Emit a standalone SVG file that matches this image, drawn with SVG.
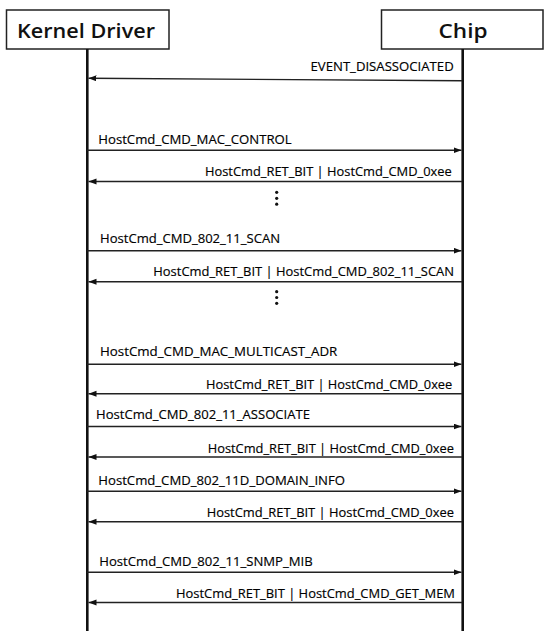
<svg xmlns="http://www.w3.org/2000/svg" width="550" height="631" viewBox="0 0 550 631">
<style>
.box{fill:#fff;stroke:#222;stroke-width:1.5}
.title{font-family:"Open Sans","Liberation Sans",sans-serif;font-size:20px;font-weight:600;fill:#111;text-anchor:middle}
.life{stroke:#111;stroke-width:2.6;fill:none}
.msg{stroke:#222;stroke-width:1.4;fill:none;marker-end:url(#ah)}
.lbl{font-family:"Open Sans","Liberation Sans",sans-serif;font-size:12px;font-weight:500;fill:#000;stroke:#000;stroke-width:0.15}
.end{text-anchor:end}
.dot{fill:#111}
</style>
<defs>
<marker id="ah" markerUnits="userSpaceOnUse" markerWidth="10" markerHeight="8" refX="8" refY="3" orient="auto">
<path d="M0,0 L8,3 L0,6 Z" fill="#111"/>
</marker>
</defs>
<g id="kernel-driver">
<rect class="box" x="6.5" y="10" width="162.5" height="39"/>
<text class="title" x="86" y="37.5" textLength="138" lengthAdjust="spacingAndGlyphs">Kernel Driver</text>
</g>
<g id="chip">
<rect class="box" x="381.5" y="10" width="161.5" height="39"/>
<text class="title" x="463" y="37.5" textLength="49" lengthAdjust="spacingAndGlyphs">Chip</text>
</g>
<g id="lifelines">
<line class="life" x1="87.3" y1="49" x2="87.3" y2="631"/>
<line class="life" x1="462.7" y1="49" x2="462.7" y2="631"/>
</g>
<g id="connectors">
<line class="msg" x1="462" y1="80.7" x2="88.5" y2="78.3"/>
<line class="msg" x1="87" y1="150.3" x2="461.5" y2="150.3"/>
<line class="msg" x1="462" y1="181.5" x2="88.5" y2="181.5"/>
<line class="msg" x1="87" y1="250.7" x2="461.5" y2="250.7"/>
<line class="msg" x1="462" y1="281.7" x2="88.5" y2="281.7"/>
<line class="msg" x1="87" y1="364.3" x2="461.5" y2="364.3"/>
<line class="msg" x1="462" y1="393.7" x2="88.5" y2="393.7"/>
<line class="msg" x1="87" y1="426.5" x2="461.5" y2="426.5"/>
<line class="msg" x1="462" y1="457" x2="88.5" y2="457"/>
<line class="msg" x1="87" y1="491.3" x2="461.5" y2="491.3"/>
<line class="msg" x1="462" y1="521.7" x2="88.5" y2="521.7"/>
<line class="msg" x1="87" y1="572.3" x2="461.5" y2="572.3"/>
<line class="msg" x1="462" y1="602.5" x2="88.5" y2="602.5"/>
</g>
<g id="labels">
<text class="lbl end" x="453.7" y="71" textLength="143.2" lengthAdjust="spacingAndGlyphs">EVENT_DISASSOCIATED</text>
<text class="lbl" x="98.3" y="144.3" textLength="193.4" lengthAdjust="spacingAndGlyphs">HostCmd_CMD_MAC_CONTROL</text>
<text class="lbl end" x="451.7" y="176" textLength="246.7" lengthAdjust="spacingAndGlyphs">HostCmd_RET_BIT | HostCmd_CMD_0xee</text>
<text class="lbl" x="100" y="243.3" textLength="180" lengthAdjust="spacingAndGlyphs">HostCmd_CMD_802_11_SCAN</text>
<text class="lbl end" x="454" y="276" textLength="300.7" lengthAdjust="spacingAndGlyphs">HostCmd_RET_BIT | HostCmd_CMD_802_11_SCAN</text>
<text class="lbl" x="100" y="356" textLength="237.3" lengthAdjust="spacingAndGlyphs">HostCmd_CMD_MAC_MULTICAST_ADR</text>
<text class="lbl end" x="452.3" y="389" textLength="246.3" lengthAdjust="spacingAndGlyphs">HostCmd_RET_BIT | HostCmd_CMD_0xee</text>
<text class="lbl" x="96" y="419.3" textLength="214" lengthAdjust="spacingAndGlyphs">HostCmd_CMD_802_11_ASSOCIATE</text>
<text class="lbl end" x="454" y="453" textLength="246.3" lengthAdjust="spacingAndGlyphs">HostCmd_RET_BIT | HostCmd_CMD_0xee</text>
<text class="lbl" x="98.3" y="485" textLength="246.7" lengthAdjust="spacingAndGlyphs">HostCmd_CMD_802_11D_DOMAIN_INFO</text>
<text class="lbl end" x="454" y="517.3" textLength="247.3" lengthAdjust="spacingAndGlyphs">HostCmd_RET_BIT | HostCmd_CMD_0xee</text>
<text class="lbl" x="99.3" y="565.5" textLength="213.4" lengthAdjust="spacingAndGlyphs">HostCmd_CMD_802_11_SNMP_MIB</text>
<text class="lbl end" x="455" y="597.8" textLength="279" lengthAdjust="spacingAndGlyphs">HostCmd_RET_BIT | HostCmd_CMD_GET_MEM</text>
</g>
<g id="ellipsis">
<circle class="dot" cx="276.7" cy="192.3" r="1.6"/>
<circle class="dot" cx="276.7" cy="198.3" r="1.6"/>
<circle class="dot" cx="276.7" cy="204.2" r="1.6"/>
<circle class="dot" cx="276.7" cy="291.7" r="1.6"/>
<circle class="dot" cx="276.7" cy="297.5" r="1.6"/>
<circle class="dot" cx="276.7" cy="303.3" r="1.6"/>
</g>
</svg>
